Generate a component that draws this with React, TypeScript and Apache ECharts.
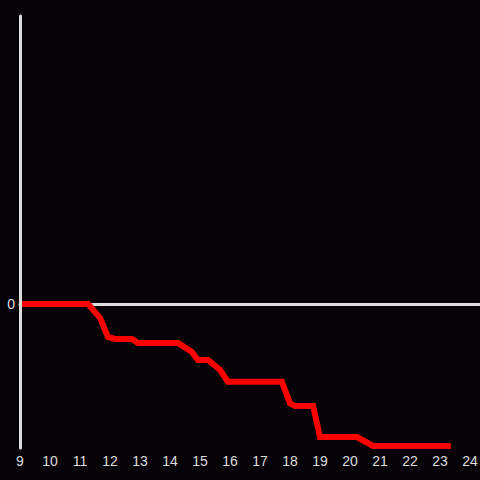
import React, { useEffect, useRef } from "react";
import * as echarts from "echarts";

const hours = [9, 11.27, 11.67, 11.93, 12.17, 12.73, 12.93, 14.27, 14.73, 14.93, 15.27, 15.67, 15.93, 17.73, 18.0, 18.17, 18.77, 19.0, 20.23, 20.77, 23.36];
const values = [0, 0, -0.097, -0.229, -0.243, -0.243, -0.271, -0.271, -0.333, -0.389, -0.389, -0.458, -0.54, -0.54, -0.69, -0.708, -0.708, -0.924, -0.924, -0.986, -0.986];
const xMin = 9;
const xMax = 24 + 1 / 3;
const yMin = -1;
const yMax = 2;

export default function App() {
  const ref = useRef<HTMLDivElement>(null);
  useEffect(() => {
    if (!ref.current) return;
    const chart = echarts.init(ref.current, undefined, { renderer: "svg" });
    const axisColor = "#dddddd";
    const labelFont = { color: "#dddddd", fontSize: 14, fontFamily: "Liberation Sans" };
    chart.setOption({
      animation: false,
      backgroundColor: "#050307",
      grid: { left: 20, right: 0, top: 16, bottom: 32, containLabel: false, outerBoundsMode: "none" },
      xAxis: [
        {
          type: "value",
          min: xMin,
          max: xMax,
          interval: 1,
          z: 0,
          axisLine: { show: false, onZero: false },
          axisTick: { show: false },
          splitLine: { show: false },
          axisLabel: {
            ...labelFont,
            margin: 6,
            showMaxLabel: true,
            formatter: (v: number) => (Math.abs(v - Math.round(v)) < 1e-6 ? String(Math.round(v)) : ""),
          },
        },
        {
          type: "value",
          min: xMin,
          max: xMax,
          interval: 1,
          z: 0,
          position: "bottom",
          axisLine: { show: true, onZero: true, lineStyle: { color: axisColor, width: 3 } },
          axisTick: { show: false },
          splitLine: { show: false },
          axisLabel: { show: false },
        },
      ],
      yAxis: {
        type: "value",
        min: yMin,
        max: yMax,
        interval: 1,
        z: 5,
        axisLine: { show: true, onZero: false, lineStyle: { color: axisColor, width: 3 } },
        axisTick: { show: false },
        splitLine: { show: false },
        axisLabel: {
          ...labelFont,
          margin: 5,
          formatter: (v: number) => (v === 0 ? "0" : ""),
        },
      },
      series: [
        {
          type: "line",
          xAxisIndex: 0,
          data: hours.map((h, i) => [h, values[i]]),
          showSymbol: false,
          lineStyle: { color: "#ff0000", width: 6, cap: "butt", join: "miter" },
          z: 2,
        },
      ],
    });
    return () => chart.dispose();
  }, []);
  return <div ref={ref} style={{ position: "absolute", left: 0, top: 0, width: 480, height: 480 }} />;
}
